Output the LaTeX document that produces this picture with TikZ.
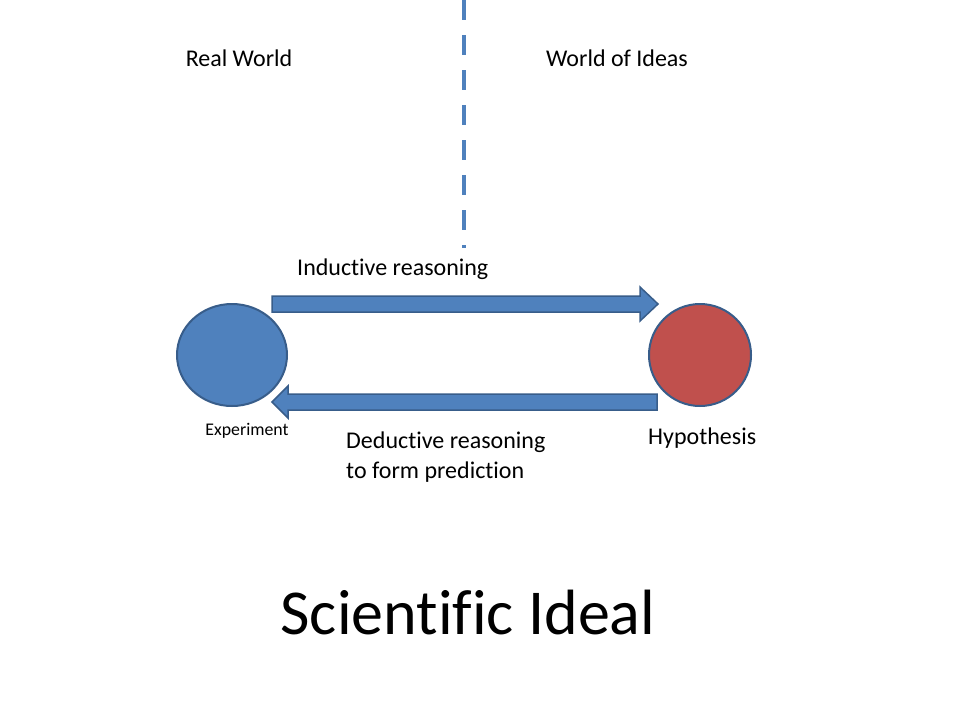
\documentclass[tikz,border=0pt]{standalone}
\usepackage{fontspec}
\setmainfont{Carlito}[Ligatures=NoCommon]
\usetikzlibrary{shapes.geometric}
\definecolor{fillblue}{HTML}{4F81BD}
\definecolor{edgeblue}{HTML}{385D8A}
\definecolor{fillred}{HTML}{C0504D}
\begin{document}
\begin{tikzpicture}[x=1pt,y=-1pt,
  lbl/.style={inner sep=0pt,font=\fontsize{24}{29.5}\selectfont},
  blob/.style={draw=edgeblue,line width=2pt,ellipse,inner sep=0pt,outer sep=0pt},
  blockarrow/.style={fill=fillblue,draw=edgeblue,line width=1.5pt,line join=miter}]
\useasboundingbox[fill=white] (0,0) rectangle (960,720);

% boundary between the two worlds
\draw[fillblue,line width=4pt,dash pattern=on 20pt off 15pt] (464,0) -- (464,248);

\node[lbl] (real) at (239,58) {Real World};
\node[lbl] (ideas) at (617,58) {World of Ideas};

% the two circles
\node[blob,fill=fillblue,minimum width=110pt,minimum height=102pt] (exp) at (232,355) {};
\node[blob,fill=fillred,minimum width=102pt,minimum height=102pt] (hyp) at (700,355) {};

% induction: experiment -> hypothesis
\draw[blockarrow] (272,296) -- (640,296) -- (640,287) -- (658,304) -- (640,321) -- (640,312) -- (272,312) -- cycle;
% deduction: hypothesis -> experiment
\draw[blockarrow] (657,394) -- (288,394) -- (288,386) -- (272,402) -- (288,418) -- (288,410) -- (657,410) -- cycle;

\node[lbl,anchor=west] (ind) at (297,269.5) {Inductive reasoning};
\node[inner sep=0pt,font=\fontsize{17.8}{21}\selectfont] (explbl) at (247,431) {Experiment};
\node[lbl,anchor=west] (hyplbl) at (648,438) {Hypothesis};
\node[lbl,anchor=north west,align=left] (ded) at (346,432) {Deductive reasoning\\to form prediction};

\node[inner sep=0pt,font=\fontsize{64}{70}\selectfont] (title) at (468,613) {Scientific Ideal};
\end{tikzpicture}
\end{document}
